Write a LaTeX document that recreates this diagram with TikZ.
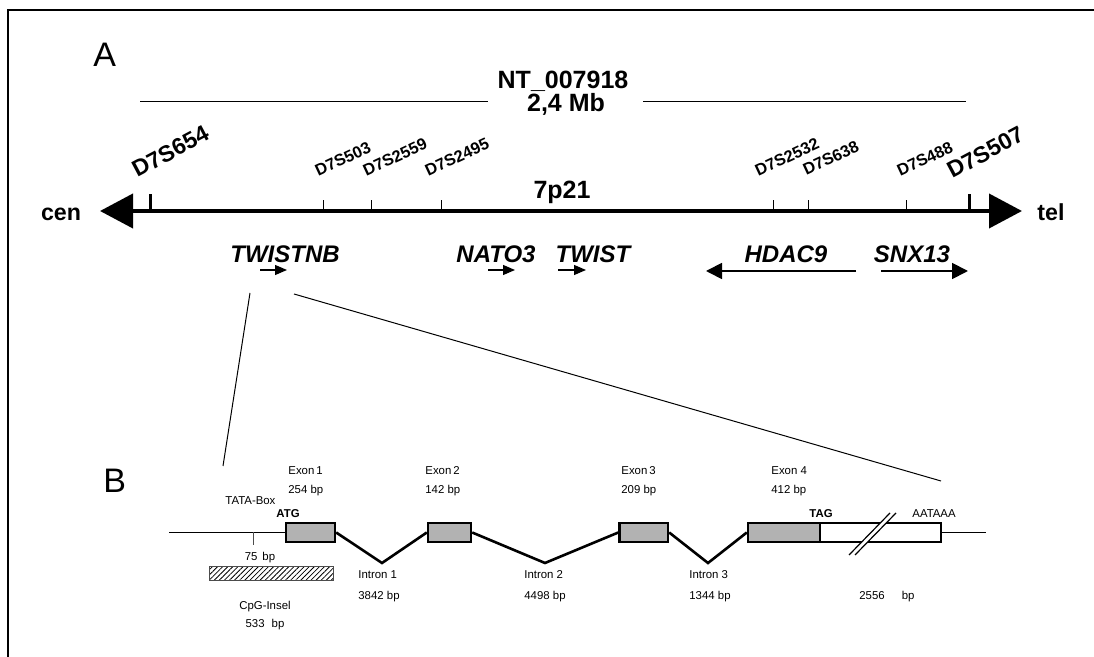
\documentclass[tikz,border=0pt]{standalone}
\usepackage{fontspec}
\setmainfont{Liberation Sans}
\usetikzlibrary{arrows.meta,patterns.meta}

\begin{document}
\begin{tikzpicture}[
  x=0.5pt, y=-0.5pt,
  %% Text styles
  panel/.style   = {font=\fontsize{17}{20}\selectfont, inner sep=0pt, anchor=base west},
  head/.style    = {font=\bfseries\fontsize{12.5}{15}\selectfont, inner sep=0pt, anchor=base},
  endlbl/.style  = {font=\bfseries\fontsize{11.6}{14}\selectfont, inner sep=0pt, anchor=base},
  marker/.style  = {font=\bfseries\fontsize{8.2}{10}\selectfont, inner sep=0pt,
                    anchor=base west, rotate=25},
  bigmark/.style = {font=\bfseries\fontsize{11.5}{13}\selectfont, inner sep=0pt,
                    anchor=base west, rotate=28},
  gene/.style    = {font=\bfseries\itshape\fontsize{12}{14}\selectfont, inner sep=0pt, anchor=base},
  sml/.style     = {font=\fontsize{5.7}{7}\selectfont, inner sep=0pt, anchor=base west},
  smlb/.style    = {sml, font=\bfseries\fontsize{5.7}{7}\selectfont},
  %% Line styles
  chrom/.style   = {line width=2pt,
                    {Triangle[length=16.5pt,width=17pt]}-{Triangle[length=16.5pt,width=17pt]}},
  thintick/.style= {line width=0.5pt},
  bigtick/.style = {line width=1.5pt},
  genearr/.style = {line width=0.6pt, -{Triangle[length=6pt,width=5pt]}},
  longarr/.style = {line width=0.9pt, -{Triangle[length=8pt,width=8pt]}},
  zoomln/.style  = {line width=0.5pt},
  %% Gene model (B)
  exon/.style    = {draw, line width=1.2pt, fill=black!30, minimum height=9.5pt, inner sep=0pt},
  utr/.style     = {exon, fill=white},
  intron/.style  = {line width=1.3pt},
  cpg/.style     = {draw=black!70, line width=0.5pt, inner sep=0pt,
                    pattern={Lines[angle=45,distance=1.8pt,line width=0.4pt]}},
]
\useasboundingbox (0,0) rectangle (1094,657);

%% ── Frame ──────────────────────────────────────────────────────
\coordinate (frBL) at (8,657);
\coordinate (frTR) at (1094,10);
\draw[line width=1pt] (frBL) |- (frTR);

%% ── Panel A: header ────────────────────────────────────────────
\node[panel] (lblA) at (93,67) {A};
\node[head] (contig) at (563,89) {NT\_007918};
\node[head] (size)   at (566,112) {2,4 Mb};
\coordinate (hlA) at (140,102);
\coordinate (hlB) at (488,102);
\coordinate (hlC) at (643,102);
\coordinate (hlD) at (966,102);
\draw[zoomln] (hlA) -- (hlB);
\draw[zoomln] (hlC) -- (hlD);

%% ── Chromosome 7p21 ────────────────────────────────────────────
\node[endlbl] (cen)  at (61,221) {cen};
\node[endlbl] (tel)  at (1051,221) {tel};
\node[head]   (band) at (562,199) {7p21};
\coordinate (cenTip) at (100,211);
\coordinate (telTip) at (1022,211);
\draw[chrom] (cenTip) -- (telTip);

% marker ticks
\draw[bigtick]  (150,211) -- (150,194);
\draw[bigtick]  (969,211) -- (969,194);
\draw[thintick] (323,211) -- (323,200);
\draw[thintick] (371,211) -- (371,200);
\draw[thintick] (441,211) -- (441,200);
\draw[thintick] (773,211) -- (773,200);
\draw[thintick] (808,211) -- (808,200);
\draw[thintick] (906,211) -- (906,200);

% marker names
\node[bigmark] (m654)  at (137,178) {D7S654};
\node[marker]  (m503)  at (318,177) {D7S503};
\node[marker]  (m2559) at (366,177) {D7S2559};
\node[marker]  (m2495) at (428,177) {D7S2495};
\node[marker]  (m2532) at (758,177) {D7S2532};
\node[marker]  (m638)  at (806,176) {D7S638};
\node[marker]  (m488)  at (900,177) {D7S488};
\node[bigmark] (m507)  at (952,179) {D7S507};

%% ── Genes ──────────────────────────────────────────────────────
\node[gene] (twistnb) at (285,263) {TWISTNB};
\node[gene] (nato)    at (496,263) {NATO3};
\node[gene] (twist)   at (593,263) {TWIST};
\node[gene] (hdac)    at (786,263) {HDAC9};
\node[gene] (snx)     at (912,263) {SNX13};

\coordinate (twnbS) at (260,270);  \coordinate (twnbE) at (287,270);
\coordinate (natoS) at (488,270);  \coordinate (natoE) at (515,270);
\coordinate (twS)   at (558,270);  \coordinate (twE)   at (586,270);
\coordinate (hdacS) at (856,271);  \coordinate (hdacE) at (706,271);
\coordinate (snxS)  at (881,271);  \coordinate (snxE)  at (968,271);
\draw[genearr] (twnbS) -- (twnbE);
\draw[genearr] (natoS) -- (natoE);
\draw[genearr] (twS) -- (twE);
\draw[longarr] (hdacS) -- (hdacE);
\draw[longarr] (snxS) -- (snxE);

%% ── Zoom lines ─────────────────────────────────────────────────
\coordinate (zL1) at (250,293);
\coordinate (zL2) at (223,466);
\coordinate (zR1) at (294,294);
\coordinate (zR2) at (941,481);
\draw[zoomln] (zL1) -- (zL2);
\draw[zoomln] (zR1) -- (zR2);

%% ── Panel B: gene structure ────────────────────────────────────
\node[panel] (lblB) at (103,493) {B};

\node[exon, minimum width=24.5pt]  (ex1) at (310.5,532.5) {};
\node[exon, minimum width=21.5pt]  (ex2) at (449.5,532.5) {};
\node[exon, minimum width=24.25pt] (ex3) at (643.75,532.5) {};
\node[exon, minimum width=36pt]    (ex4) at (784,532.5) {};
\node[utr,  minimum width=60.5pt]  (utr) at (880.5,532.5) {};

\coordinate (lineL) at (169,532.5);
\coordinate (lineR) at (986,532.5);
\draw[zoomln] (lineL) -- (ex1.west);
\draw[zoomln] (utr.east) -- (lineR);

% introns
\coordinate (v1) at (382,563);
\coordinate (v2) at (545,563);
\coordinate (v3) at (708,563);
\draw[intron] (ex1.east) -- (v1) -- (ex2.west);
\draw[intron] (ex2.east) -- (v2) -- (ex3.west);
\draw[intron] (ex3.east) -- (v3) -- (ex4.west);

% break in 3'UTR
\coordinate (b1) at (849,555);
\coordinate (b2) at (890,513);
\coordinate (b3) at (896,513);
\coordinate (b4) at (855,555);
\fill[white] (b1) -- (b2) -- (b3) -- (b4) -- cycle;
\draw[line width=0.6pt] (b1) -- (b2);
\draw[line width=0.6pt] (b4) -- (b3);

% TATA box and CpG island
\coordinate (tataT) at (253,532.5);
\coordinate (tataB) at (253,545);
\draw[line width=0.5pt, black!70] (tataT) -- (tataB);
\node[cpg, minimum width=62pt, minimum height=7pt] (cpg) at (271,574) {};

%% ── Panel B: labels ────────────────────────────────────────────
\node[sml] (e1) at (288,475) {Exon\,1};
\node[sml] (s1) at (288,494) {254 bp};
\node[sml] (e2) at (425,475) {Exon\,2};
\node[sml] (s2) at (425,494) {142 bp};
\node[sml] (e3) at (621,475) {Exon\,3};
\node[sml] (s3) at (621,494) {209 bp};
\node[sml] (e4) at (771,475) {Exon 4};
\node[sml] (s4) at (771,494) {412 bp};

\node[sml]  (tata) at (225,505) {TATA-Box};
\node[smlb] (atg)  at (276,518) {ATG};
\node[smlb] (tag)  at (809,518) {TAG};
\node[sml]  (polyA) at (912,518) {AATAAA};
\node[sml, anchor=base] (dist) at (260,561) {75\hspace{2.5pt}bp};
\node[sml, anchor=base] (cpgT) at (265,610) {CpG-Insel};
\node[sml, anchor=base] (cpgS) at (265,628) {533\hspace{3.5pt}bp};

\node[sml] (i1) at (358,579) {Intron 1};
\node[sml] (i1s) at (358,600) {3842 bp};
\node[sml] (i2) at (524,579) {Intron 2};
\node[sml] (i2s) at (524,600) {4498 bp};
\node[sml] (i3) at (689,579) {Intron 3};
\node[sml] (i3s) at (689,600) {1344 bp};
\node[sml] (utrS) at (859,600) {2556\hspace{8.5pt}bp};

\end{tikzpicture}
\end{document}
